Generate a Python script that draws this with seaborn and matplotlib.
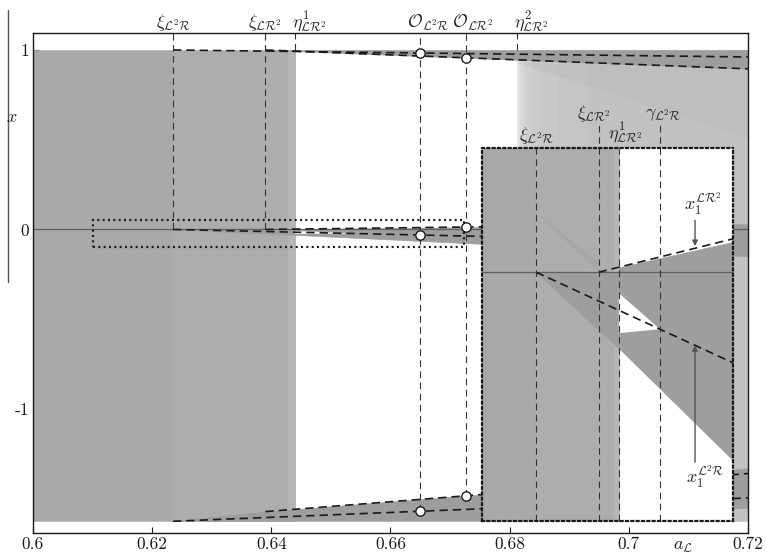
import numpy as np
import matplotlib
matplotlib.use("Agg")
import matplotlib.pyplot as plt
import seaborn as sns
from matplotlib.lines import Line2D
from matplotlib.patches import Rectangle

# bifurcation values of a_L
xi_L2R = 0.6235
xi_LR2 = 0.639
eta1 = 0.644
eta2 = 0.6813
gamma = 0.6542
O_L2R = 0.665
O_LR2 = 0.6726

# chaotic attractor bounds
a_lim = [0.6, 0.72]
x_lim = [-1.691, 1.092]
x_top = 1.0
x_bot = -1.624

# dashed branches
top1_a = [0.6235, 0.72]
top1_x = [1.0, 0.961]
top2_a = [0.639, 0.72]
top2_x = [1.0, 0.895]
mid1_a = [0.6235, 0.6755]
mid1_x = [0.0, -0.0388]
mid2_a = [0.639, 0.6755]
mid2_x = [0.0, 0.0147]
bot1_a = [0.6235, 0.72]
bot1_x = [-1.626, -1.496]
bot2_a = [0.639, 0.72]
bot2_x = [-1.572, -1.36]

# shaded bands
band_top_a = [0.639, 0.72]
band_top_lo = [1.0, 0.895]
band_mid_a = [0.6235, 0.644, 0.6441, 0.6723, 0.72]
band_mid_hi = [0.0, 0.0, 0.002, 0.0122, 0.03]
band_mid_lo = [0.0, -0.0306, -0.0307, -0.0756, -0.150]
band_bot_a = [0.6235, 0.639, 0.6813, 0.72]
band_bot_hi = [-1.624, -1.572, -1.46, -1.33]
band_bot_lo = [-1.624, -1.624, -1.624, -1.55]
notch_a = [0.644, 0.6542, 0.644]
notch_x = [-0.0084, -0.0229, -0.0245]
streak_a = [0.6235, 0.639, 0.639]
streak_x = [0.024, 0.0, 0.004]
fan_a = [0.6813, 0.72, 0.72]
fan_x = [0.93, 0.90, 0.50]
edge_strip_a = [0.6428, 0.644]

# light region after eta2
eta2_edges = [0.6813, 0.6816, 0.682, 0.6826, 0.6835, 0.685, 0.688, 0.693, 0.72]
eta2_grays = ['#e2e2e2', '#dadada', '#d4d4d4', '#cfcfcf', '#cbcbcb',
              '#c8c8c8', '#c5c5c5', '#c2c2c2']

# zoom window
zoom_a = [0.6101, 0.6723]
zoom_x = [-0.100, 0.050]

xticks = [0.6, 0.62, 0.64, 0.66, 0.68, 0.7, 0.72]
xtick_labels = ['0.6', '0.62', '0.64', '0.66', '0.68', '0.7', '0.72']
yticks = [-1, 0, 1]
ytick_labels = ['-1', '0', '1']

sns.set_theme(style='white')
plt.rcParams['mathtext.fontset'] = 'cm'
plt.rcParams['font.family'] = ['cmr10', 'DejaVu Serif']

DASH = (0, (5, 3))
VDASH = (0, (6, 4))
DOTS = (0, (0.9, 1.5))


def fill(ax, a, lo, hi, c, **kw):
    ax.fill_between(a, lo, hi, color=c, ec=c, lw=0.4, **kw)


def draw_scene(ax):
    fill(ax, [a_lim[0], xi_L2R], x_bot, x_top, '#a9a9a9')
    fill(ax, [xi_L2R, eta1], x_bot, x_top, '#adadad')
    fill(ax, edge_strip_a, x_bot, x_top, '#b6b6b6')
    for i, c in enumerate(eta2_grays):
        fill(ax, eta2_edges[i:i + 2], x_bot, x_top, c)
    ax.fill(fan_a, fan_x, color='#b6b6b6', alpha=0.3, lw=0)
    fill(ax, band_top_a, band_top_lo, x_top, '#9e9e9e')
    fill(ax, band_mid_a, band_mid_lo, band_mid_hi, '#9e9e9e')
    fill(ax, band_bot_a, band_bot_lo, band_bot_hi, '#9e9e9e')
    ax.fill(notch_a, notch_x, color='white', lw=0)
    ax.fill(streak_a, streak_x, color='#a6a6a6', lw=0)
    ax.axhline(0, color='#606060', lw=0.9)
    for a, x in [(top1_a, top1_x), (top2_a, top2_x), (mid1_a, mid1_x),
                 (mid2_a, mid2_x), (bot1_a, bot1_x), (bot2_a, bot2_x)]:
        sns.lineplot(x=a, y=x, ax=ax, color='k', lw=1.2, linestyle=DASH)


fig = plt.figure(figsize=(7.67, 5.54), dpi=100)
ax = fig.add_axes([0.043, 0.038, 0.9322, 0.9016])
draw_scene(ax)

# circles of the orbits O
circ_a = [O_L2R] * 3 + [O_LR2] * 3
circ_x = [np.interp(O_L2R, top1_a, top1_x), np.interp(O_L2R, mid1_a, mid1_x),
          np.interp(O_L2R, bot1_a, bot1_x), np.interp(O_LR2, top2_a, top2_x),
          np.interp(O_LR2, mid2_a, mid2_x), np.interp(O_LR2, bot2_a, bot2_x)]

# vertical lines in main plot
main_vl_a = [xi_L2R, xi_LR2, eta1, O_L2R, O_LR2, eta2]
main_vl_lo = [0, 0, x_top, circ_x[2], circ_x[5], x_top]
for a, lo in zip(main_vl_a, main_vl_lo):
    ax.plot([a, a], [lo, x_lim[1]], color='#333333', lw=0.8, ls=VDASH)

sns.scatterplot(x=circ_a, y=circ_x, ax=ax, s=45, color='white',
                edgecolor='k', linewidth=1, zorder=6)

rect = Rectangle((zoom_a[0], zoom_x[0]), zoom_a[1] - zoom_a[0],
                 zoom_x[1] - zoom_x[0], fill=False, ec='k', lw=1.6,
                 ls=DOTS, zorder=5)
ax.add_patch(rect)

ax.set_xlim(a_lim)
ax.set_ylim(x_lim)
ax.set_xticks(xticks, labels=xtick_labels)
ax.set_yticks(yticks, labels=ytick_labels)
ax.tick_params(direction='in', length=4, width=0.8, labelsize=12.5, pad=3,
               bottom=True, left=True, top=False, right=False, colors='k')
for s in ax.spines.values():
    s.set_color('k')
    s.set_linewidth(1)

tr = ax.get_xaxis_transform()
main_labels = [
    (xi_L2R, r'$\xi_{\mathcal{L}^2\mathcal{R}}$', 'center', 0),
    (xi_LR2, r'$\xi_{\mathcal{L}\mathcal{R}^2}$', 'center', 0),
    (eta1, r'$\eta^1_{\mathcal{L}\mathcal{R}^2}$', 'left', -0.0006),
    (O_L2R, r'$\mathcal{O}_{\mathcal{L}^2\mathcal{R}}$', 'center', 0.0013),
    (O_LR2, r'$\mathcal{O}_{\mathcal{L}\mathcal{R}^2}$', 'center', 0.0012),
    (eta2, r'$\eta^2_{\mathcal{L}\mathcal{R}^2}$', 'left', -0.0006),
]
for a, t, ha, dx in main_labels:
    ax.text(a + dx, 1.012, t, transform=tr, ha=ha, va='baseline', fontsize=13)

ax.text(0.909, -0.028, r'$a_{\mathcal{L}}$', transform=ax.transAxes,
        ha='center', va='center', fontsize=13)
fig.text(0.0156, 0.789, r'$x$', ha='center', va='center', fontsize=13)
fig.add_artist(Line2D([0.0104, 0.0104], [0.491, 0.982], color='#555555', lw=1))

# inset (zoom of the dotted window)
axins = ax.inset_axes([0.628, 0.024, 0.351, 0.747])
axins.set_facecolor('white')
draw_scene(axins)
axins.set_xlim(zoom_a)
axins.set_ylim(zoom_x)
axins.set_xticks([])
axins.set_yticks([])
axins.set_xlabel('')
axins.set_ylabel('')
for s in axins.spines.values():
    s.set_color('k')
    s.set_linewidth(1.6)
    s.set_linestyle(DOTS)

inset_vl_a = [xi_L2R, xi_LR2, eta1, gamma]
inset_vl_top = [1.0, 1.067, 1.0, 1.067]
trin = axins.get_xaxis_transform()
for a, t in zip(inset_vl_a, inset_vl_top):
    axins.plot([a, a], [0, t], transform=trin, color='#333333', lw=0.8,
               ls=VDASH, clip_on=False)

inset_labels = [
    (xi_L2R, 1.021, r'$\xi_{\mathcal{L}^2\mathcal{R}}$', 0),
    (xi_LR2, 1.080, r'$\xi_{\mathcal{L}\mathcal{R}^2}$', -0.0012),
    (eta1, 1.024, r'$\eta^1_{\mathcal{L}\mathcal{R}^2}$', 0.0017),
    (gamma, 1.083, r'$\gamma_{\mathcal{L}^2\mathcal{R}}$', 0.0007),
]
for a, y, t, dx in inset_labels:
    axins.text(a + dx, y, t, transform=trin, ha='center', va='baseline',
               fontsize=13)

arrow_a = 0.6629
arr_style = dict(arrowstyle='-|>', color='#555555', lw=1, mutation_scale=8,
                 shrinkA=0, shrinkB=0)
axins.annotate('', xy=(arrow_a, 0.0105), xytext=(arrow_a, 0.0209),
               arrowprops=arr_style)
axins.annotate('', xy=(arrow_a, -0.0294), xytext=(arrow_a, -0.0764),
               arrowprops=arr_style)
axins.text(0.6649, 0.0277, r'$x_1^{\mathcal{L}\mathcal{R}^2}$', ha='center',
           va='center', fontsize=13)
axins.text(0.6654, -0.0824, r'$x_1^{\mathcal{L}^2\mathcal{R}}$', ha='center',
           va='center', fontsize=13)

fig.savefig('out.png', dpi=100)
